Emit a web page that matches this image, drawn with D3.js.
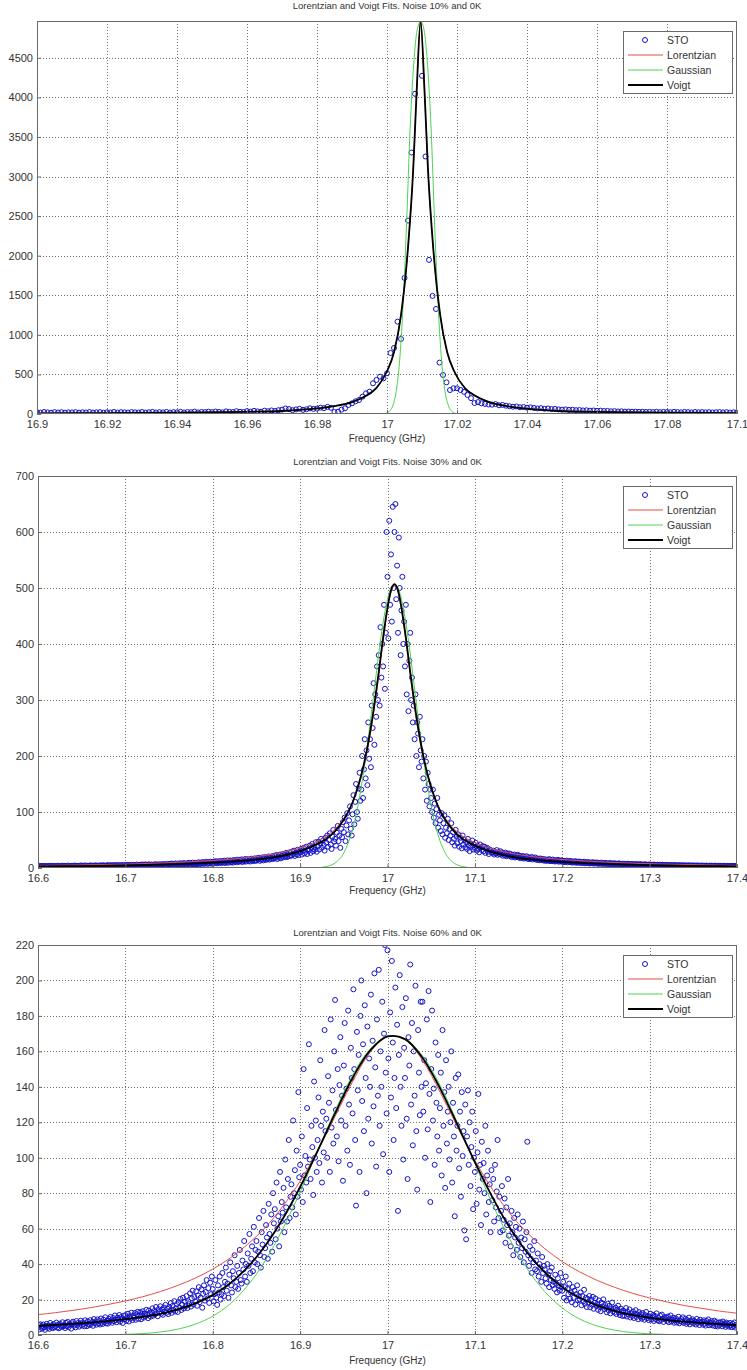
<!DOCTYPE html>
<html>
<head>
<meta charset="utf-8">
<script src="https://cdn.jsdelivr.net/npm/d3@7"></script>
<style>
  body { margin: 0; background: #fff; }
  svg text { font-family: "Liberation Sans", Arial, Helvetica, sans-serif; fill: #333; }
</style>
</head>
<body>
<svg id="chart" width="747" height="1370"></svg>
<script>
// ---------- Panel titles ----------
const titles = [
  "Lorentzian and Voigt Fits. Noise 10% and 0K",
  "Lorentzian and Voigt Fits. Noise 30% and 0K",
  "Lorentzian and Voigt Fits. Noise 60% and 0K"
];
const xLabel = "Frequency (GHz)";
const legendLabels = ["STO", "Lorentzian", "Gaussian", "Voigt"];

// ---------- Axis ticks ----------
const xTicks1 = [16.9, 16.92, 16.94, 16.96, 16.98, 17, 17.02, 17.04, 17.06, 17.08, 17.1];
const yTicks1 = [0, 500, 1000, 1500, 2000, 2500, 3000, 3500, 4000, 4500];
const xTicks2 = [16.6, 16.7, 16.8, 16.9, 17, 17.1, 17.2, 17.3, 17.4];
const yTicks2 = [0, 100, 200, 300, 400, 500, 600, 700];
const xTicks3 = [16.6, 16.7, 16.8, 16.9, 17, 17.1, 17.2, 17.3, 17.4];
const yTicks3 = [0, 20, 40, 60, 80, 100, 120, 140, 160, 180, 200, 220];

const xDomain1 = [16.9, 17.1], yDomain1 = [0, 4965];
const xDomain2 = [16.6, 17.4], yDomain2 = [0, 700];
const xDomain3 = [16.6, 17.4], yDomain3 = [0, 220];

// ---------- STO measurements (uniform frequency grid) ----------
const stoStep = 0.001;
const sto1Start = 16.9;
const sto1 = [
  22, 18, 25, 20, 16, 24, 19, 23, 17, 21,
  20, 24, 17, 22, 19, 25, 18, 21, 23, 16,
  22, 19, 26, 18, 23, 20, 17, 24, 21, 19,
  25, 18, 22, 27, 19, 23, 20, 26, 18, 24,
  21, 28, 19, 25, 22, 30, 20, 26, 24, 29,
  23, 31, 26, 20, 33, 27, 24, 35, 28, 25,
  36, 30, 40, 33, 28, 42, 35, 45, 38, 48,
  55, 70, 62, 48, 58, 66, 52, 60, 72, 64,
  68, 80, 74, 90, 78, 25, 29, 55, 72, 114,
  135, 160, 177, 219, 261, 282, 388, 430, 472, 451,
  514, 771, 834, 1167, 948, 1719, 2444, 3303, 4045, null,
  4273, 3253, 1947, 1492, 1327, 649, 493, 400, 303, 325,
  325, 303, 280, 240, 200, 139, 150, 135, 128, 120,
  118, 125, 110, 115, 105, 98, 92, 95, 85, 88,
  80, 84, 76, 70, 74, 66, 70, 62, 64, 58,
  55, 58, 52, 54, 48, 50, 45, 47, 42, 44,
  40, 42, 37, 39, 34, 36, 32, 34, 30, 31,
  29, 30, 27, 29, 25, 27, 24, 28, 23, 26,
  25, 22, 27, 24, 21, 26, 23, 20, 25, 22,
  24, 21, 23, 19, 22, 25, 20, 23, 18, 21,
  22
];

const sto2Start = 16.6;
const sto2 = [
  3.2, 2.4, 3.8, 2.9, 3.5, 2.2, 3.9, 2.7, 3.3, 2.5,
  3.6, 2.6, 3.1, 4.0, 2.4, 3.4, 2.8, 3.9, 2.3, 3.2,
  2.7, 3.7, 2.5, 4.1, 3.0, 2.4, 3.6, 2.9, 4.2, 2.6,
  3.9, 2.8, 3.4, 2.5, 4.3, 3.1, 2.7, 3.8, 3.2, 4.0,
  2.6, 3.5, 4.4, 2.9, 3.7, 2.5, 4.0, 3.3, 2.8, 4.5,
  3.1, 4.2, 2.7, 3.6, 4.6, 3.0, 2.6, 4.1, 3.4, 3.9,
  4.7, 2.9, 3.8, 4.3, 2.8, 3.6, 4.9, 3.2, 4.0, 2.9,
  3.5, 4.8, 3.0, 4.4, 3.7, 5.0, 2.9, 4.1, 3.6, 4.6,
  5.1, 3.3, 4.3, 3.7, 5.3, 3.1, 4.6, 4.0, 5.2, 3.4,
  4.1, 5.4, 3.5, 4.8, 3.2, 5.0, 4.4, 3.6, 5.6, 4.0,
  3.7, 5.2, 4.6, 5.8, 3.4, 4.9, 4.2, 5.9, 3.6, 5.0,
  5.5, 3.8, 4.7, 6.1, 4.0, 5.3, 3.7, 5.8, 4.5, 6.2,
  4.2, 5.9, 4.8, 6.4, 3.9, 5.4, 4.4, 6.6, 5.0, 4.3,
  6.2, 4.5, 5.7, 4.0, 6.8, 5.1, 4.6, 6.5, 5.5, 4.2,
  6.8, 4.7, 6.2, 5.3, 7.2, 4.6, 6.0, 5.1, 7.4, 5.6,
  5.4, 7.5, 6.1, 8.0, 5.0, 6.9, 5.7, 8.2, 6.3, 5.2,
  7.9, 5.8, 6.7, 8.6, 5.5, 7.4, 6.2, 8.9, 7.0, 5.6,
  6.3, 8.7, 7.4, 9.3, 6.0, 8.1, 6.9, 9.6, 7.2, 6.4,
  9.4, 6.8, 8.5, 7.4, 10.2, 6.7, 9.0, 7.8, 10.6, 8.2,
  7.4, 10.5, 8.8, 11.0, 7.2, 9.9, 8.3, 11.4, 9.5, 7.6,
  10.8, 8.0, 11.6, 9.3, 12.2, 8.3, 10.6, 9.1, 12.5, 10.2,
  8.7, 12.4, 10.5, 13.1, 9.0, 11.8, 10.0, 13.6, 9.3, 12.0,
  13.5, 10.1, 12.8, 9.6, 14.3, 11.4, 13.0, 10.3, 14.9, 11.6,
  11.0, 14.6, 12.3, 15.4, 10.6, 13.8, 12.0, 16.0, 11.4, 14.2,
  15.8, 12.1, 14.7, 11.6, 16.6, 13.3, 15.2, 12.4, 17.2, 13.8,
  13.0, 17.6, 15.2, 18.4, 12.8, 16.5, 14.4, 19.0, 13.6, 17.0,
  19.5, 14.6, 17.8, 15.9, 20.6, 14.9, 18.6, 16.2, 21.2, 17.0,
  16.4, 22.0, 18.6, 23.4, 16.0, 20.8, 18.0, 24.0, 17.2, 21.4,
  25.0, 19.0, 23.6, 20.4, 27.0, 19.6, 24.4, 21.0, 28.0, 22.2,
  22, 29.5, 25, 31, 21.5, 27.5, 24, 32.5, 23, 29,
  28, 34, 24, 31, 36, 26, 29, 38, 25, 33,
  31, 40, 27, 36, 43, 30, 38, 33, 46, 29,
  39, 47, 33, 44, 52, 36, 49, 41, 31, 54,
  45, 58, 38, 50, 62, 42, 34, 56, 68, 47,
  52, 40, 63, 75, 48, 58, 36, 70, 55, 82,
  64, 90, 48, 76, 98, 60, 85, 110, 70, 58,
  96, 130, 78, 118, 150, 100, 88, 142, 170, 120,
  140, 200, 125, 176, 230, 160, 210, 148, 260, 195,
  230, 180, 290, 250, 330, 220, 310, 270, 360, 300,
  380, 290, 430, 340, 400, 360, 470, 320, 420, 600,
  520, 410, 620, 470, 560, 440, 645, 500, 600, 650,
  480, 540, 420, 590, 500, 380, 460, 520, 400, 440,
  360, 470, 310, 400, 280, 370, 420, 300, 340, 260,
  290, 230, 310, 200, 260, 240, 180, 270, 210, 190,
  230, 160, 200, 140, 190, 120, 170, 150, 110, 140,
  125, 100, 140, 90, 115, 80, 105, 125, 72, 95,
  85, 66, 98, 60, 80, 94, 54, 72, 62, 88,
  50, 70, 58, 80, 46, 64, 52, 40, 68, 56,
  44, 60, 38, 54, 48, 35, 58, 42, 50, 37,
  46, 34, 52, 40, 30, 44, 38, 49, 33, 42,
  36, 45, 31, 40, 34, 28, 42, 37, 32, 39,
  30, 38, 27, 34, 36, 29, 25, 33, 31, 28,
  27, 31, 24, 29, 26, 32, 23.5, 28, 25, 30,
  24, 28, 22, 26, 23, 27.5, 21, 25, 22.5, 26,
  21.5, 25, 19.5, 23, 20.5, 24, 18.8, 22, 20, 23.5,
  19, 22, 17.6, 20.5, 18.2, 21.4, 16.8, 19.6, 17.9, 21,
  16.6, 19.4, 15.8, 18.2, 16.9, 19.8, 15.2, 17.6, 16.2, 18.8,
  15.0, 17.2, 14.2, 16.5, 13.8, 17.0, 14.8, 16.0, 13.5, 15.6,
  13.2, 15.4, 12.6, 14.6, 13.8, 15.9, 12.2, 14.0, 12.9, 15.1,
  12.1, 14.2, 11.6, 13.4, 12.5, 14.6, 11.2, 13.0, 12.0, 13.8,
  11.0, 12.9, 10.4, 12.3, 11.5, 13.2, 10.1, 11.9, 10.8, 12.6,
  10.0, 12.0, 9.6, 11.3, 10.5, 12.2, 9.2, 10.9, 9.8, 11.6,
  9.3, 11.0, 8.8, 10.4, 9.6, 11.3, 8.4, 10.1, 9.0, 10.7,
  8.6, 10.1, 8.1, 9.5, 8.8, 10.4, 7.8, 9.2, 8.3, 9.9,
  7.9, 9.4, 7.5, 8.8, 8.1, 9.7, 7.2, 8.5, 7.7, 9.1,
  7.3, 8.7, 6.9, 8.2, 7.6, 9.0, 6.6, 7.9, 7.1, 8.4,
  6.8, 8.1, 6.4, 7.6, 7.0, 8.3, 6.1, 7.3, 6.6, 7.8,
  6.3, 7.5, 5.9, 7.0, 6.5, 7.7, 5.7, 6.8, 6.1, 7.2,
  5.9, 7.0, 5.5, 6.6, 6.0, 7.2, 5.3, 6.3, 5.7, 6.8,
  5.4, 6.5, 5.1, 6.1, 5.6, 6.7, 4.9, 5.9, 5.3, 6.3,
  5.0, 6.1, 4.8, 5.7, 5.2, 6.2, 4.6, 5.5, 4.9, 5.9,
  4.7, 5.7, 4.4, 5.3, 4.9, 5.8, 4.2, 5.1, 4.6, 5.5,
  4.4, 5.3, 4.1, 5.0, 4.6, 5.4, 3.9, 4.8, 4.3, 5.2,
  4.1, 5.0, 3.8, 4.7, 4.3, 5.1, 3.7, 4.5, 4.0, 4.9,
  3.9, 4.7, 3.6, 4.4, 4.0, 4.8, 3.5, 4.3, 3.8, 4.6,
  3.7, 4.5, 3.4, 4.2, 3.8, 4.6, 3.3, 4.1, 3.6, 4.4,
  3.5, 4.3, 3.2, 4.0, 3.6, 4.4, 3.1, 3.9, 3.4, 4.2,
  3.3, 4.1, 3.1, 3.8, 3.5, 4.2, 3.0, 3.7, 3.2, 4.0,
  3.2, 3.9, 2.9, 3.6, 3.3, 4.0, 2.8, 3.5, 3.1, 3.8,
  3.0, 3.7, 2.8, 3.5, 3.2, 3.9, 2.7, 3.4, 3.0, 3.6,
  3.1
];

const sto3Start = 16.6;
const sto3 = [
  4.1, 5.6, 3.2, 6.0, 4.8, 3.7, 5.9, 4.4, 2.9, 5.1,
  6.3, 4.0, 5.2, 3.5, 6.8, 4.6, 5.5, 3.9, 6.1, 4.3,
  5.0, 7.0, 4.2, 5.8, 3.8, 6.4, 5.3, 4.5, 7.2, 4.9,
  5.5, 3.9, 6.9, 5.1, 7.4, 4.4, 6.2, 5.7, 3.6, 6.6,
  7.5, 5.2, 6.0, 4.3, 7.9, 5.6, 6.8, 4.7, 6.4, 8.1,
  5.4, 7.1, 6.2, 4.9, 8.3, 6.6, 5.0, 7.7, 6.1, 5.6,
  8.4, 6.3, 7.3, 5.2, 9.0, 6.8, 7.6, 5.8, 8.8, 6.5,
  7.9, 5.9, 9.3, 7.0, 6.2, 8.6, 7.3, 10.0, 6.6, 8.0,
  6.4, 9.1, 7.6, 10.2, 8.3, 6.9, 9.6, 7.8, 11.0, 8.5,
  7.2, 9.8, 8.6, 11.3, 7.5, 10.1, 9.0, 6.8, 10.8, 8.9,
  11.2, 8.0, 9.9, 12.0, 7.6, 10.5, 9.3, 12.6, 8.4, 10.9,
  9.7, 12.4, 8.6, 11.6, 13.1, 9.2, 10.8, 12.9, 8.9, 11.8,
  13.4, 9.8, 12.0, 10.6, 14.2, 11.3, 9.5, 13.8, 12.2, 10.4,
  12.8, 15.0, 10.9, 13.5, 11.7, 15.8, 12.4, 10.6, 14.6, 13.0,
  16.2, 12.0, 14.4, 11.4, 15.5, 13.2, 17.0, 12.6, 14.9, 11.8,
  15.8, 13.6, 18.0, 12.5, 16.4, 14.2, 19.1, 13.3, 15.1, 17.4,
  13.0, 18.6, 15.4, 20.3, 14.1, 17.2, 21.0, 15.0, 18.8, 16.2,
  22.0, 15.2, 19.0, 17.4, 23.5, 16.0, 20.6, 25.0, 17.2, 21.4,
  19.0, 24.6, 16.5, 22.3, 27.0, 18.5, 21.0, 25.8, 15.4, 23.2,
  28.0, 19.4, 24.2, 31.0, 20.6, 26.4, 18.1, 29.5, 23.0, 33.0,
  26, 19, 23, 31, 21, 17, 28, 24, 33, 20,
  23, 35, 27, 22, 30, 38, 25, 29, 21, 34,
  41, 28, 24, 36, 32, 45, 27, 30, 39, 26,
  35, 48, 31, 29, 42, 37, 53, 33, 40, 30,
  46, 39, 57, 35, 43, 50, 36, 61, 41, 48,
  53, 40, 47, 66, 45, 38, 58, 51, 70, 44,
  49, 62, 55, 43, 74, 57, 52, 68, 47, 80,
  63, 71, 54, 86, 60, 67, 50, 92, 64, 75,
  69, 83, 58, 99, 72, 64, 88, 110, 66, 78,
  85, 72, 121, 80, 93, 68, 104, 78, 137, 89,
  96, 82, 112, 75, 150, 90, 101, 86, 128, 95,
  164, 99, 88, 118, 106, 79, 143, 100, 121, 92,
  110, 134, 97, 155, 118, 86, 126, 103, 172, 115,
  122, 100, 146, 131, 92, 178, 117, 138, 108, 160,
  189, 127, 112, 150, 98, 141, 168, 121, 135, 87,
  152, 176, 118, 139, 104, 183, 130, 96, 162, 145,
  125, 195, 150, 110, 73, 171, 138, 158, 92, 180,
  200, 132, 164, 115, 186, 145, 80, 174, 122, 156,
  140, 192, 108, 166, 129, 204, 151, 95, 178, 135,
  206, 118, 160, 140, 188, 102, 170, 220, 148, 125,
  217, 156, 92, 182, 134, 211, 165, 110, 145, 196,
  128, 175, 70, 158, 203, 140, 118, 185, 99, 162,
  145, 190, 122, 88, 168, 152, 209, 130, 176, 107,
  160, 135, 197, 115, 82, 172, 148, 124, 188, 140,
  188, 126, 155, 100, 142, 178, 116, 194, 136, 75,
  150, 183, 121, 139, 96, 165, 131, 112, 158, 104,
  128, 148, 90, 172, 118, 137, 83, 155, 108, 126,
  140, 99, 120, 160, 86, 131, 112, 67, 145, 104,
  118, 147, 94, 126, 78, 137, 101, 115, 59, 130,
  54, 112, 138, 96, 120, 84, 106, 126, 71, 100,
  92, 115, 74, 103, 136, 82, 96, 62, 109, 88,
  97, 80, 118, 68, 90, 104, 75, 85, 58, 93,
  76, 88, 64, 96, 72, 81, 110, 66, 78, 58,
  70, 84, 59, 65, 77, 52, 72, 62, 88, 56,
  63, 50, 70, 58, 45, 66, 55, 61, 48, 68,
  52, 60, 44, 55, 49, 64, 41, 54, 47, 58,
  109, 45, 39, 50, 43, 35, 48, 41, 53, 37,
  42, 36, 46, 33, 40, 38, 30, 44, 35, 39,
  37, 32, 29, 40, 34, 27, 36, 31, 38, 28,
  30, 26, 34, 29, 24, 32, 28, 25, 35, 27,
  25, 30, 21, 27, 33, 19.5, 26, 23, 29, 20.5,
  24, 18.5, 27, 21, 25, 17.2, 23, 28, 19.6, 22,
  20, 24, 16.8, 22, 19, 25.5, 17.6, 21, 15.8, 20.4,
  18.5, 22, 15.6, 19.8, 17.2, 21.5, 14.8, 18.2, 20.6, 16.3,
  17.5, 14.2, 19.5, 15.8, 13.4, 18.2, 16.1, 20.1, 14.6, 17.0,
  15.5, 12.8, 17.6, 14.0, 16.4, 12.2, 15.0, 18.3, 13.4, 14.6,
  12.6, 15.4, 11.8, 14.3, 16.5, 12.9, 11.2, 14.9, 13.3, 10.7,
  13.8, 11.0, 12.6, 15.2, 10.4, 13.0, 11.6, 14.4, 9.9, 12.2,
  10.8, 13.2, 9.6, 12.0, 14.0, 10.2, 11.5, 8.9, 12.9, 10.5,
  11.8, 9.2, 12.4, 10.0, 8.6, 11.2, 13.0, 9.5, 10.6, 8.4,
  10.4, 12.0, 8.7, 9.9, 11.3, 7.9, 10.8, 9.0, 12.2, 8.3,
  9.6, 7.8, 10.9, 8.5, 11.5, 9.2, 7.4, 10.1, 8.8, 9.9,
  8.0, 10.4, 7.2, 9.1, 11.0, 7.7, 8.6, 9.8, 6.9, 8.3,
  9.4, 7.1, 8.2, 10.3, 6.6, 7.9, 9.0, 7.4, 10.0, 6.8,
  7.7, 9.2, 6.3, 8.4, 7.0, 9.8, 6.0, 8.1, 7.3, 8.9,
  6.5, 8.0, 7.4, 5.9, 9.1, 6.8, 7.7, 5.6, 8.6, 6.9,
  7.6, 5.8, 8.3, 6.4, 5.3, 7.9, 6.9, 8.8, 5.5, 7.1,
  6.2, 7.8, 5.4, 6.7, 8.1, 5.0, 7.3, 6.0, 4.8, 7.0,
  5.6, 7.2, 6.4, 4.9, 7.6, 5.8, 6.6, 4.6, 7.0, 5.3,
  6.1, 4.7, 6.8, 5.5, 4.4, 6.3, 5.1, 7.1, 4.2, 5.8,
  5.0
];

// ---------- Fitted curves: [frequency, amplitude] ----------
const lorentz1 = [[16.9,9],[16.92,12],[16.94,17],[16.96,28],[16.97,40],[16.98,72],[16.985,102],[16.99,152],[16.994,232],[16.997,332],[17.0,540],[17.002,780],[17.004,1250],[17.006,2100],[17.0075,3100],[17.0085,4100],[17.0096,4960],[17.0107,4100],[17.0117,3100],[17.0132,2100],[17.0152,1250],[17.0172,780],[17.0192,540],[17.0222,332],[17.0252,232],[17.0292,152],[17.0342,102],[17.0392,72],[17.0492,40],[17.0592,28],[17.0792,17],[17.1,12]];
const gauss1 = [[16.9,0],[16.997,0],[16.9986,2],[16.9996,8],[17.0006,30],[17.0016,98],[17.0026,278],[17.0036,671],[17.0046,1379],[17.0056,2413],[17.0066,3603],[17.0076,4400],[17.0086,4850],[17.0096,4960],[17.0106,4850],[17.0116,4400],[17.0126,3603],[17.0136,2413],[17.0146,1379],[17.0156,671],[17.0166,278],[17.0176,98],[17.0186,30],[17.0196,8],[17.0206,2],[17.022,0],[17.1,0]];
const voigt1 = [[16.9,8],[16.92,11],[16.94,16],[16.96,27],[16.97,38],[16.98,70],[16.985,100],[16.99,150],[16.994,230],[16.997,330],[17.0,540],[17.002,780],[17.004,1250],[17.006,2100],[17.0075,3100],[17.0085,4100],[17.0096,4960],[17.0107,4100],[17.0117,3100],[17.0132,2100],[17.0152,1250],[17.0172,780],[17.0192,540],[17.0222,330],[17.0252,230],[17.0292,150],[17.0342,100],[17.0392,70],[17.0492,38],[17.0592,27],[17.0792,16],[17.1,11]];

const lorentz2 = [[16.6,4.5],[16.65,5.5],[16.7,7],[16.75,9.5],[16.8,13.5],[16.84,18.5],[16.87,25],[16.9,36],[16.92,48],[16.93,57],[16.94,70],[16.95,89],[16.96,117],[16.97,163],[16.975,196],[16.98,236],[16.985,286],[16.99,344],[16.995,405],[17.0,460],[17.004,492],[17.008,504],[17.012,492],[17.016,460],[17.021,405],[17.026,344],[17.031,286],[17.036,236],[17.041,196],[17.046,163],[17.056,117],[17.066,89],[17.076,70],[17.086,57],[17.096,48],[17.116,36],[17.146,25],[17.176,18.5],[17.216,13.5],[17.266,9.5],[17.316,7],[17.366,5.5],[17.4,4.5]];
const gauss2 = [[16.6,0],[16.9,0],[16.92,0.6],[16.93,2.6],[16.94,9],[16.95,27],[16.96,69],[16.97,145],[16.975,197],[16.98,257],[16.985,320],[16.99,383],[16.995,438],[17.0,480],[17.004,500],[17.008,507],[17.012,500],[17.016,480],[17.021,438],[17.026,383],[17.031,320],[17.036,257],[17.041,197],[17.046,145],[17.056,69],[17.066,27],[17.076,9],[17.086,2.6],[17.096,0.6],[17.116,0],[17.4,0]];
const voigt2 = [[16.6,3],[16.65,3.5],[16.7,4.5],[16.75,6.3],[16.8,9.5],[16.84,13.5],[16.87,19],[16.9,30],[16.92,43],[16.93,52],[16.94,66],[16.95,86],[16.96,117],[16.97,166],[16.975,200],[16.98,242],[16.985,292],[16.99,350],[16.995,412],[17.0,465],[17.004,496],[17.008,507],[17.012,496],[17.016,465],[17.021,412],[17.026,350],[17.031,292],[17.036,242],[17.041,200],[17.046,166],[17.056,117],[17.066,86],[17.076,66],[17.086,52],[17.096,43],[17.116,30],[17.146,19],[17.176,13.5],[17.216,9.5],[17.266,6.3],[17.316,4.5],[17.366,3.5],[17.4,3]];

const lorentz3 = [[16.6,11.5],[16.62,12.6],[16.64,13.9],[16.66,15.4],[16.68,17.2],[16.7,19.2],[16.72,21.6],[16.74,24.5],[16.76,28.0],[16.78,32.1],[16.8,37.2],[16.82,43.4],[16.84,51.2],[16.86,60.6],[16.88,72.5],[16.9,86.8],[16.92,103.9],[16.94,123.3],[16.96,142.9],[16.98,159.4],[17.0,168.3],[17.02,166.7],[17.04,155.0],[17.06,137.2],[17.08,117.4],[17.1,98.5],[17.12,82.2],[17.14,68.6],[17.16,57.6],[17.18,48.7],[17.2,41.4],[17.22,35.6],[17.24,30.8],[17.26,26.9],[17.28,23.6],[17.3,20.9],[17.32,18.6],[17.34,16.6],[17.36,15.0],[17.38,13.5],[17.4,12.3]];
const gauss3 = [[16.6,0],[16.64,0.03],[16.66,0.07],[16.68,0.17],[16.7,0.39],[16.72,0.83],[16.74,1.7],[16.76,3.3],[16.78,6.1],[16.8,10.6],[16.82,17.6],[16.84,27.9],[16.86,41.9],[16.88,59.7],[16.9,80.7],[16.92,103.7],[16.94,126.5],[16.96,146.5],[16.98,161.3],[17.0,168.5],[17.02,167.1],[17.04,157.5],[17.06,141.0],[17.08,119.8],[17.1,96.7],[17.12,74.1],[17.14,53.9],[17.16,37.3],[17.18,24.5],[17.2,15.3],[17.22,9.0],[17.24,5.1],[17.26,2.7],[17.28,1.4],[17.3,0.66],[17.32,0.3],[17.34,0.13],[17.36,0.05],[17.38,0.02],[17.4,0]];
const voigt3 = [[16.6,5.2],[16.62,5.7],[16.64,6.3],[16.66,7.0],[16.68,7.8],[16.7,8.9],[16.72,10.2],[16.74,11.9],[16.76,14.4],[16.78,17.8],[16.8,22.5],[16.82,29.2],[16.84,38.3],[16.86,50.3],[16.88,65.4],[16.9,83.5],[16.92,103.8],[16.94,125],[16.96,145],[16.98,160.4],[17.0,168.4],[17.02,166.9],[17.04,156.4],[17.06,139.3],[17.08,118.7],[17.1,97.5],[17.12,77.8],[17.14,60.5],[17.16,46.4],[17.18,35.4],[17.2,27],[17.22,21],[17.24,16.7],[17.26,13.6],[17.28,11.4],[17.3,9.8],[17.32,8.4],[17.34,7.5],[17.36,6.8],[17.38,6.1],[17.4,5.5]];

// ---------- Layout & styles ----------
const COLORS = { sto: "#1414c8", lorentz: "#e0504a", gauss: "#4fd24f", voigt: "#000", axis: "#6a6a6a", grid: "#707070" };

const panels = [
  { title: titles[0], titleY: 9, labelY: 442, box: { left: 37, right: 737, top: 21, bottom: 414 },
    xDomain: xDomain1, yDomain: yDomain1, xTicks: xTicks1, yTicks: yTicks1,
    stoStart: sto1Start, sto: sto1, lorentz: lorentz1, gauss: gauss1, voigt: voigt1, curve: d3.curveMonotoneX },
  { title: titles[1], titleY: 465, labelY: 894, box: { left: 38, right: 737, top: 476, bottom: 868 },
    xDomain: xDomain2, yDomain: yDomain2, xTicks: xTicks2, yTicks: yTicks2,
    stoStart: sto2Start, sto: sto2, lorentz: lorentz2, gauss: gauss2, voigt: voigt2, curve: d3.curveMonotoneX },
  { title: titles[2], titleY: 936, labelY: 1364, box: { left: 38, right: 737, top: 945, bottom: 1335 },
    xDomain: xDomain3, yDomain: yDomain3, xTicks: xTicks3, yTicks: yTicks3,
    stoStart: sto3Start, sto: sto3, lorentz: lorentz3, gauss: gauss3, voigt: voigt3, curve: d3.curveCatmullRom.alpha(0.5) }
];

const svg = d3.select("#chart");
const fmt = d => String(+d.toFixed(2));

panels.forEach((p, idx) => {
  const b = p.box;
  const x = d3.scaleLinear().domain(p.xDomain).range([b.left, b.right]);
  const y = d3.scaleLinear().domain(p.yDomain).range([b.bottom, b.top]);
  const g = svg.append("g");

  const clipId = "clip" + idx;
  svg.append("clipPath").attr("id", clipId)
    .append("rect").attr("x", b.left).attr("y", b.top)
    .attr("width", b.right - b.left).attr("height", b.bottom - b.top);

  // dotted grid
  const grid = g.append("g").attr("stroke", COLORS.grid).attr("stroke-width", 1)
    .attr("stroke-dasharray", "1,2").attr("fill", "none");
  p.xTicks.forEach(t => {
    const px = Math.round(x(t)) + 0.5;
    if (px > b.left + 1 && px < b.right - 1)
      grid.append("line").attr("x1", px).attr("x2", px).attr("y1", b.top).attr("y2", b.bottom);
  });
  p.yTicks.forEach(t => {
    const py = Math.round(y(t)) + 0.5;
    if (py > b.top + 1 && py < b.bottom - 1)
      grid.append("line").attr("x1", b.left).attr("x2", b.right).attr("y1", py).attr("y2", py);
  });

  // STO points
  const pts = p.sto.map((v, i) => [+(p.stoStart + i * stoStep).toFixed(4), v]).filter(d => d[1] !== null);
  g.append("g").attr("clip-path", `url(#${clipId})`)
    .selectAll("circle").data(pts).join("circle")
    .attr("cx", d => x(d[0])).attr("cy", d => y(d[1])).attr("r", 2.5)
    .attr("fill", "none").attr("stroke", COLORS.sto).attr("stroke-width", 1);

  // fitted curves, Voigt drawn last
  const line = d3.line().x(d => x(d[0])).y(d => y(d[1])).curve(p.curve);
  const curves = g.append("g").attr("clip-path", `url(#${clipId})`).attr("fill", "none");
  curves.append("path").attr("d", line(p.lorentz)).attr("stroke", COLORS.lorentz).attr("stroke-width", 1);
  curves.append("path").attr("d", line(p.gauss)).attr("stroke", COLORS.gauss).attr("stroke-width", 1);
  curves.append("path").attr("d", line(p.voigt)).attr("stroke", COLORS.voigt).attr("stroke-width", 1.8);

  // axes box
  g.append("rect").attr("x", b.left + 0.5).attr("y", b.top + 0.5)
    .attr("width", b.right - b.left - 1).attr("height", b.bottom - b.top - 1)
    .attr("fill", "none").attr("stroke", COLORS.axis).attr("stroke-width", 1);

  // tick marks + labels
  const xAxis = d3.axisBottom(x).tickValues(p.xTicks).tickSize(-4).tickPadding(6).tickFormat(fmt);
  const xa = g.append("g").attr("transform", `translate(0,${b.bottom})`).call(xAxis);
  xa.select(".domain").remove();
  xa.selectAll("line").attr("stroke", COLORS.axis);
  xa.selectAll("text").attr("font-size", 11).attr("fill", "#333").attr("font-family", null);

  const yAxis = d3.axisLeft(y).tickValues(p.yTicks).tickSize(-4).tickPadding(4).tickFormat(d => String(d));
  const ya = g.append("g").attr("transform", `translate(${b.left},0)`).call(yAxis);
  ya.select(".domain").remove();
  ya.selectAll("line").attr("stroke", COLORS.axis);
  ya.selectAll("text").attr("font-size", 11).attr("fill", "#333").attr("font-family", null);

  // title and x label
  const cx = (b.left + b.right) / 2;
  g.append("text").attr("x", cx).attr("y", p.titleY).attr("text-anchor", "middle")
    .attr("font-size", 9.5).text(p.title);
  g.append("text").attr("x", cx).attr("y", p.labelY).attr("text-anchor", "middle")
    .attr("font-size", 10).text(xLabel);

  // legend
  const lw = 109, lh = 62;
  const lx = b.right - 114, ly = b.top + 10;
  const lg = g.append("g").attr("transform", `translate(${lx},${ly})`);
  lg.append("rect").attr("x", 0.5).attr("y", 0.5).attr("width", lw).attr("height", lh)
    .attr("fill", "#fff").attr("stroke", COLORS.axis);
  const rowsY = [9, 24, 39, 54];
  lg.append("circle").attr("cx", 22).attr("cy", rowsY[0]).attr("r", 2.5)
    .attr("fill", "none").attr("stroke", COLORS.sto).attr("stroke-width", 1);
  [[COLORS.lorentz, 1], [COLORS.gauss, 1], [COLORS.voigt, 1.8]].forEach((s, k) => {
    lg.append("line").attr("x1", 5).attr("x2", 40).attr("y1", rowsY[k + 1]).attr("y2", rowsY[k + 1])
      .attr("stroke", s[0]).attr("stroke-width", s[1]);
  });
  legendLabels.forEach((t, k) => {
    lg.append("text").attr("x", 44).attr("y", rowsY[k]).attr("dy", "0.35em")
      .attr("font-size", 10.5).text(t);
  });
});
</script>
</body>
</html>
